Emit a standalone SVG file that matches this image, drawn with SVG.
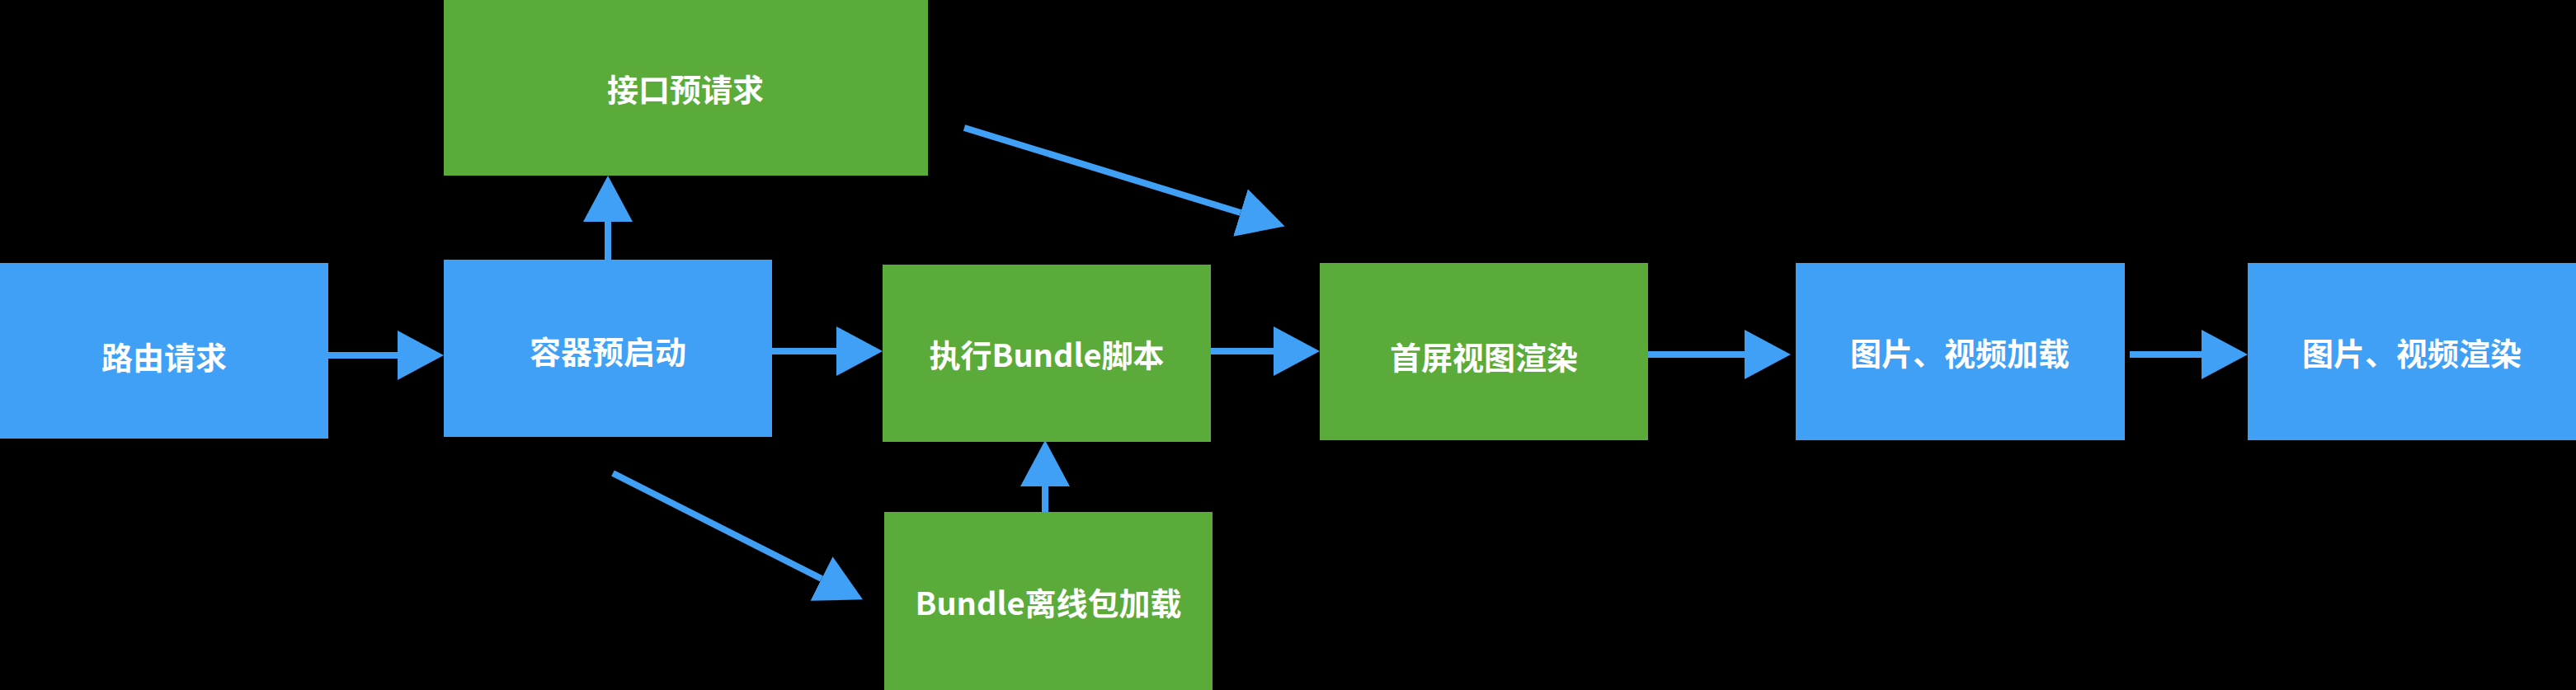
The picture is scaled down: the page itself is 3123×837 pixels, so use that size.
<svg xmlns="http://www.w3.org/2000/svg" width="3123" height="837" viewBox="0 0 3123 837">
<style>
.b{fill:#3FA0F5}.g{fill:#5AAB3A}
text{fill:#fff;font-family:"Noto Sans CJK SC","Noto Sans",sans-serif;font-size:38px;font-weight:bold;text-anchor:middle;dominant-baseline:central}
.c line{stroke:#3FA0F5;stroke-width:8}
</style>
<defs><marker id="a" markerUnits="strokeWidth" markerWidth="7" markerHeight="7.5" refX="0" refY="3.75" orient="auto"><path d="M0,0 L7,3.75 L0,7.5z" fill="#3FA0F5"/></marker></defs>
<rect width="3123" height="837" fill="#000"/>
<g id="n1"><rect class="b" x="0" y="319" width="398" height="213"/><text x="199" y="431">路由请求</text></g>
<g id="n2"><rect class="b" x="538" y="315" width="398" height="215"/><text x="737" y="424">容器预启动</text></g>
<g id="n3"><rect class="g" x="538" y="0" width="587" height="213"/><text x="831" y="106">接口预请求</text></g>
<g id="n4"><rect class="g" x="1070" y="321" width="398" height="215"/><text x="1269" y="428">执行Bundle脚本</text></g>
<g id="n5"><rect class="g" x="1072" y="621" width="398" height="216"/><text x="1271" y="729">Bundle离线包加载</text></g>
<g id="n6"><rect class="g" x="1600" y="319" width="398" height="215"/><text x="1799" y="431">首屏视图渲染</text></g>
<g id="n7"><rect class="b" x="2177" y="319" width="399" height="215"/><text x="2376" y="426">图片、视频加载</text></g>
<g id="n8"><rect class="b" x="2725" y="319" width="398" height="215"/><text x="2924" y="426">图片、视频渲染</text></g>
<g class="c">
<line x1="398" y1="431" x2="482" y2="431" marker-end="url(#a)"/>
<line x1="737" y1="315" x2="737" y2="269" marker-end="url(#a)"/>
<line x1="936" y1="426" x2="1014" y2="426" marker-end="url(#a)"/>
<line x1="743" y1="574" x2="996" y2="702" marker-end="url(#a)"/>
<line x1="1267" y1="621" x2="1267" y2="590" marker-end="url(#a)"/>
<line x1="1468" y1="426" x2="1544" y2="426" marker-end="url(#a)"/>
<line x1="1169" y1="155" x2="1504" y2="258" marker-end="url(#a)"/>
<line x1="1998" y1="430" x2="2115" y2="430" marker-end="url(#a)"/>
<line x1="2582" y1="430" x2="2669" y2="430" marker-end="url(#a)"/>
</g>
</svg>
